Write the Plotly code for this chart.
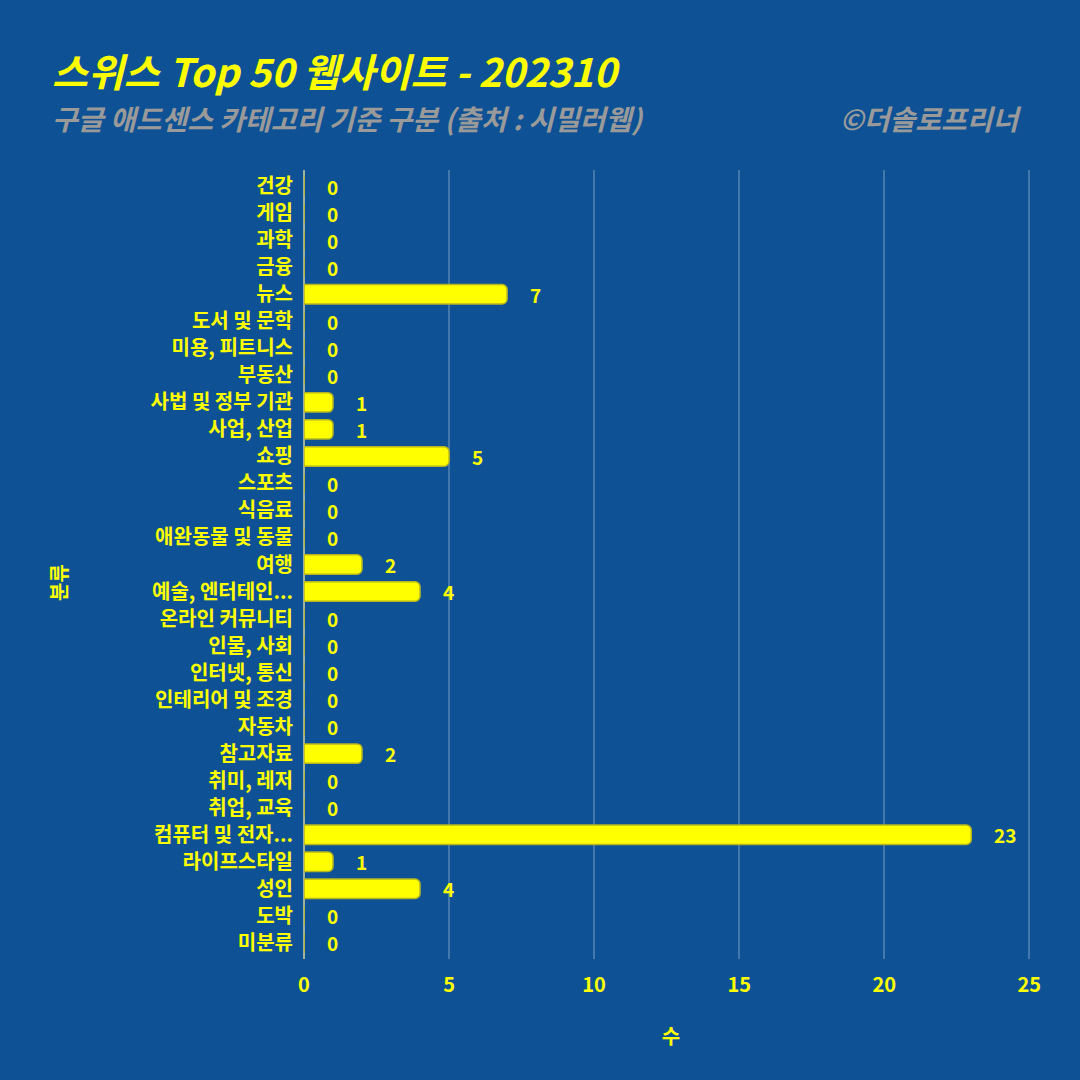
import plotly.graph_objects as go

categories = ["건강", "게임", "과학", "금융", "뉴스", "도서 및 문학", "미용, 피트니스", "부동산",
              "사법 및 정부 기관", "사업, 산업", "쇼핑", "스포츠", "식음료", "애완동물 및 동물", "여행",
              "예술, 엔터테인...", "온라인 커뮤니티", "인물, 사회", "인터넷, 통신", "인테리어 및 조경",
              "자동차", "참고자료", "취미, 레저", "취업, 교육", "컴퓨터 및 전자...", "라이프스타일",
              "성인", "도박", "미분류"]
values = [0, 0, 0, 0, 7, 0, 0, 0, 1, 1, 5, 0, 0, 0, 2, 4, 0, 0, 0, 0, 0, 2, 0, 0, 23, 1, 4, 0, 0]
x_ticks = [0, 5, 10, 15, 20, 25]

BG = "#0E5295"
YEL = "#FFFF00"
FONT = "Noto Sans CJK KR"

L, R, T, B = 304, 42, 170, 121
PW = 1080 - L - R
PH = 1080 - T - B

def px_x(p):
    return (p - L) / PW

def px_y(p):
    return (1080 - B - p) / PH

fig = go.Figure()
fig.add_trace(go.Bar(
    x=values, y=categories, orientation="h",
    marker=dict(color=YEL, line=dict(color="#B5B520", width=1.5), cornerradius=5),
    width=0.72, hoverinfo="x+y",
))

for c, v in zip(categories, values):
    fig.add_annotation(x=v, y=c, text=str(v), showarrow=False, xanchor="left",
                       xshift=21, font=dict(family=FONT, size=19, color=YEL, weight="bold"))

fig.add_annotation(xref="paper", yref="paper", x=px_x(50), y=px_y(70), xanchor="left", yanchor="middle",
                   text="<i>스위스 Top 50 웹사이트 - 202310</i>", showarrow=False,
                   font=dict(family=FONT, size=39, color=YEL, weight="bold"))
fig.add_annotation(xref="paper", yref="paper", x=px_x(50), y=px_y(118), xanchor="left", yanchor="middle",
                   text="<i>구글 애드센스 카테고리 기준 구분 (출처 : 시밀러웹)</i>", showarrow=False,
                   font=dict(family=FONT, size=28, color="#9A9A9A", weight="bold"))
fig.add_annotation(xref="paper", yref="paper", x=px_x(1024), y=px_y(118), xanchor="right", yanchor="middle",
                   text="<i>©더솔로프리너</i>", showarrow=False,
                   font=dict(family=FONT, size=28, color="#9A9A9A", weight="bold"))
fig.add_annotation(xref="paper", yref="paper", x=px_x(58), y=px_y(583), xanchor="center", yanchor="middle",
                   text="분류", textangle=-90, showarrow=False,
                   font=dict(family=FONT, size=20, color=YEL, weight="bold"))

fig.update_layout(
    width=1080, height=1080,
    paper_bgcolor=BG, plot_bgcolor=BG,
    margin=dict(l=L, r=R, t=T, b=B),
    showlegend=False,
    font=dict(family=FONT, color=YEL),
    xaxis=dict(range=[0, 25.3], tickvals=x_ticks, showgrid=True,
               gridcolor="rgba(255,255,255,0.22)", gridwidth=1.5,
               zeroline=True, zerolinecolor="rgba(220,220,160,0.7)", zerolinewidth=2,
               tickfont=dict(family=FONT, size=20, color=YEL, weight="bold"),
               ticks="", ticklabelstandoff=12,
               title=dict(text="수", font=dict(family=FONT, size=20, color=YEL, weight="bold"),
                          standoff=32)),
    yaxis=dict(categoryorder="array", categoryarray=categories,
               range=[28.6, -0.6], showgrid=False,
               tickfont=dict(family=FONT, size=20, color=YEL, weight="bold"),
               ticks="", ticklabelstandoff=10),
)

fig.write_html("out.html")
